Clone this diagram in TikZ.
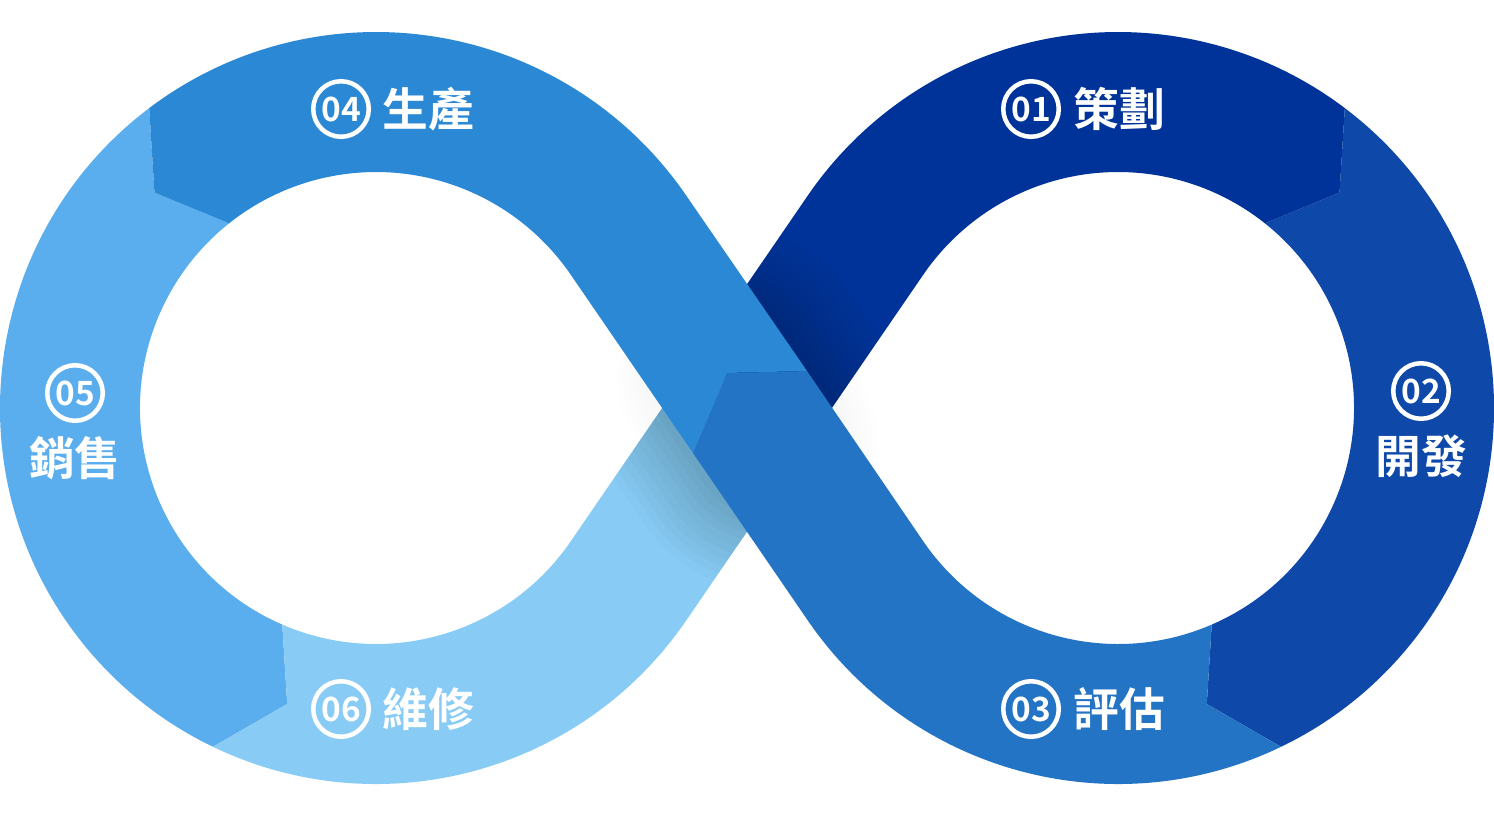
\documentclass[tikz,border=0pt]{standalone}
\usepackage{fontspec}
\newfontfamily\cjk{Noto Sans CJK TC}[BoldFont={Noto Sans CJK TC Bold}]
\usetikzlibrary{positioning}
\definecolor{blue01}{HTML}{003399}
\definecolor{blue02}{HTML}{0E48A9}
\definecolor{blue03}{HTML}{2474C5}
\definecolor{blue04}{HTML}{2B88D4}
\definecolor{blue05}{HTML}{5BAEEE}
\definecolor{blue06}{HTML}{88CCF6}
\tikzset{
    mynum/.style = {circle, draw=white, line width=0.045cm, minimum size=0.555cm, inner sep=0pt, text=white, font=\cjk\bfseries\fontsize{9.5pt}{10pt}\selectfont},
    mytext/.style = {inner sep=0pt, text=white, font=\cjk\bfseries\fontsize{13pt}{14pt}\selectfont},
    seg01/.style = {fill=blue01},
    seg02/.style = {fill=blue02},
    seg03/.style = {fill=blue03},
    seg04/.style = {fill=blue04},
    seg05/.style = {fill=blue05},
    seg06/.style = {fill=blue06},
    shadowline/.style = {black, line cap=round}, % over strand shadow
}

\begin{document}
\begin{tikzpicture}[x=0.01cm, y=0.01cm]
\useasboundingbox (0,0) rectangle (1494,814);
\coordinate (cl) at (376,406);
\coordinate (cr) at (1118,406);
\coordinate (s1) at (724.4,439);
\coordinate (s2) at (769.6,373);
% right loop
\fill[seg02] ([shift={(cr)}]52.9:376) arc[start angle=52.9, end angle=-64.3, radius=376]
  -- ([shift={(cr)}]-73.3:309) -- ([shift={(cr)}]-66.6:236)
  arc[start angle=-66.6, end angle=51.5, radius=236] -- ([shift={(cr)}]44.2:309) -- cycle;
% left loop
\fill[seg05] ([shift={(cl)}]127.1:376) arc[start angle=127.1, end angle=244.3, radius=376]
  -- ([shift={(cl)}]253.3:309) -- ([shift={(cl)}]246.6:236)
  arc[start angle=246.6, end angle=128.5, radius=236] -- ([shift={(cl)}]135.8:309) -- cycle;
% faint halo
\foreach \k in {1,...,8}
  \draw[shadowline, opacity=0.005, line width=1.4cm+\k*0.1cm] (s1) -- (s2);
% under strand
\fill[seg06] ([shift={(cl)}]244.3:376) -- ([shift={(cl)}]253.3:309) -- ([shift={(cl)}]246.6:236)
  arc[start angle=246.6, end angle=325.57, radius=236] -- (704.6,467.9) -- (789.4,344.1)
  -- ([shift={(cl)}]325.57:376) arc[start angle=325.57, end angle=244.3, radius=376] -- cycle;
\fill[seg01] (789.4,344.1) -- ([shift={(cr)}]145.57:236)
  arc[start angle=145.57, end angle=51.5, radius=236] -- ([shift={(cr)}]44.2:309)
  -- ([shift={(cr)}]52.9:376) arc[start angle=52.9, end angle=145.57, radius=376]
  -- (704.6,467.9) -- cycle;
\begin{scope}
  \clip (686.1,193.4) -- (923.3,539.4) -- (807.9,618.6) -- (570.7,272.6) -- cycle;
  \foreach \k in {1,...,10}
    \draw[shadowline, opacity=0.02, line width=1.4cm+\k*0.16cm] (s1) -- (s2);
\end{scope}
% over strand
\fill[seg04] (807,443) -- ([shift={(cl)}]34.43:376)
  arc[start angle=34.43, end angle=127.1, radius=376] -- ([shift={(cl)}]135.8:309)
  -- ([shift={(cl)}]128.5:236) arc[start angle=128.5, end angle=34.43, radius=236]
  -- (693,361) -- (727,441) -- cycle;
\fill[seg03] ([shift={(cr)}]295.7:376) arc[start angle=295.7, end angle=214.43, radius=376]
  -- (693,361) -- (727,441) -- (807,443) -- ([shift={(cr)}]214.43:236)
  arc[start angle=214.43, end angle=293.4, radius=236] -- ([shift={(cr)}]286.7:309) -- cycle;
% labels
\node[mynum] (n01) at (1031,705) {01};
\node[mytext, right=0.12cm of n01] (t01) {策劃};
\node[mynum] (n02) at (1421,423) {02};
\node[mytext, below=0.13cm of n02] (t02) {開發};
\node[mynum] (n03) at (1031,105) {03};
\node[mytext, right=0.12cm of n03] (t03) {評估};
\node[mynum] (n04) at (341,705) {04};
\node[mytext, right=0.11cm of n04] (t04) {生產};
\node[mynum] (n05) at (75,421) {05};
\node[mytext, below=0.13cm of n05] (t05) {銷售};
\node[mynum] (n06) at (341,105) {06};
\node[mytext, right=0.11cm of n06] (t06) {維修};
\end{tikzpicture}
\end{document}
